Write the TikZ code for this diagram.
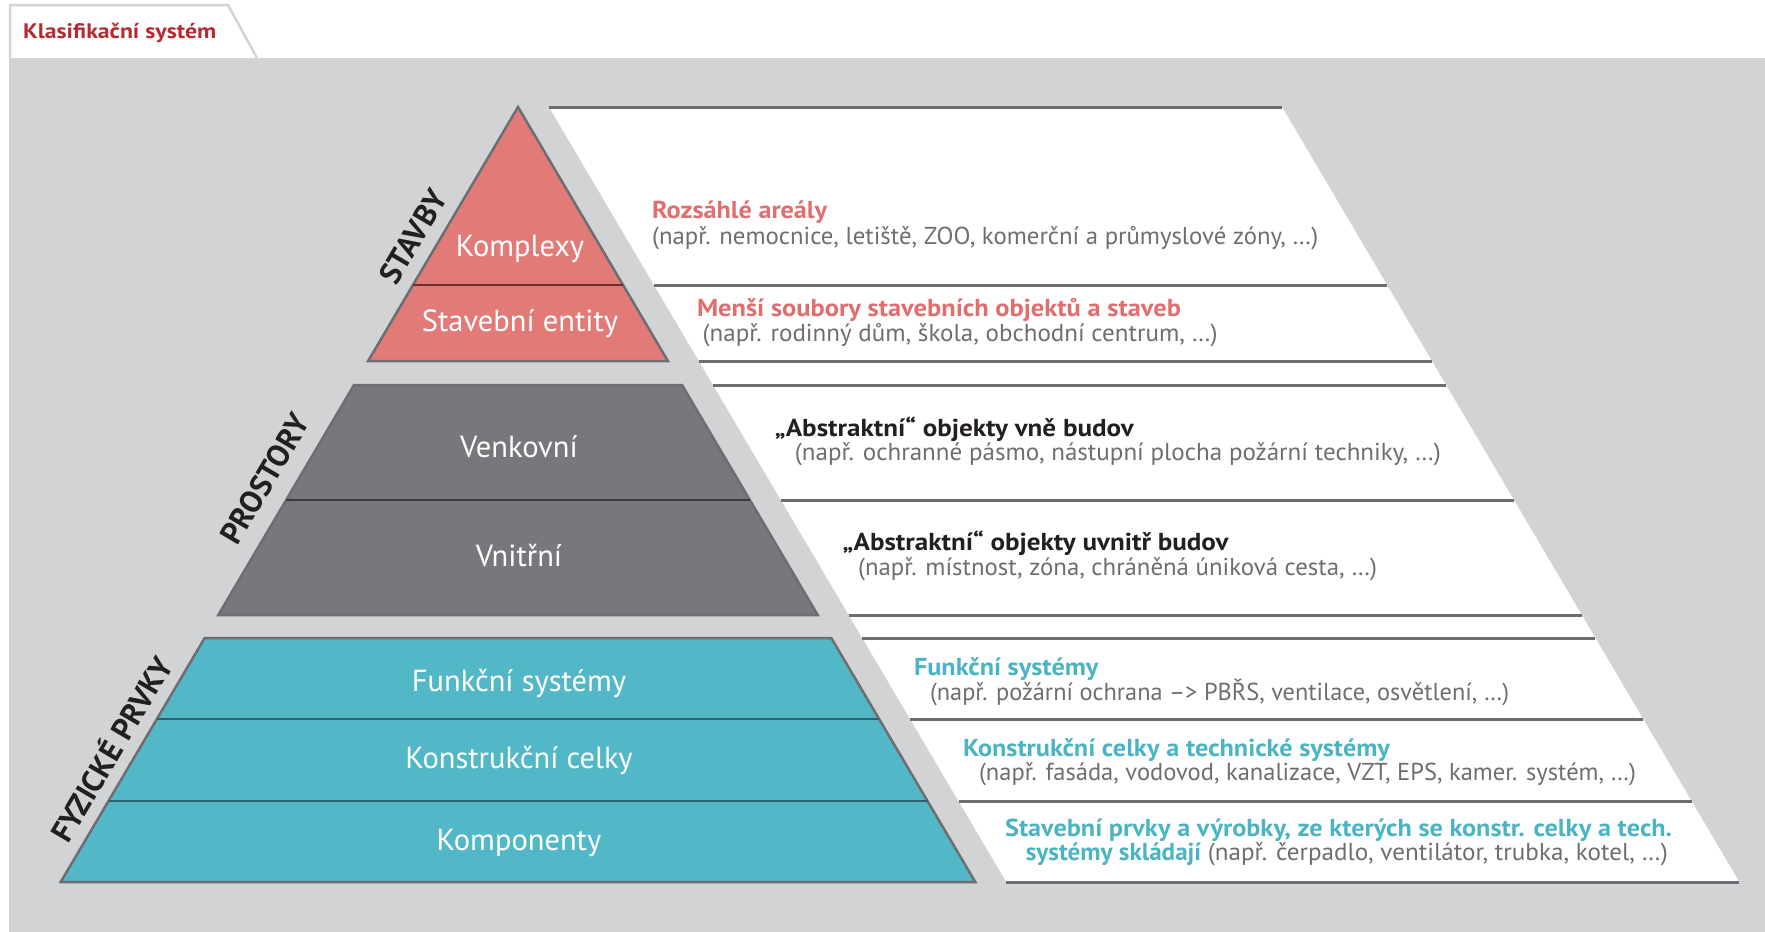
\documentclass[tikz,border=0pt]{standalone}
\usepackage{fontspec}
\usepackage{graphicx}
\setmainfont{PT Sans}
\definecolor{bggrey}{HTML}{D1D3D4}
\definecolor{titlered}{HTML}{B52B30}
\definecolor{stavfill}{HTML}{E27B78}
\definecolor{prosfill}{HTML}{77787B}
\definecolor{fyzfill}{HTML}{52B8C8}
\definecolor{outlgrey}{HTML}{6D6E71}
\definecolor{stavdiv}{HTML}{6B2F2F}
\definecolor{prosdiv}{HTML}{3A3B3D}
\definecolor{fyzdiv}{HTML}{2F5F6A}
\definecolor{headred}{HTML}{E06E6E}
\definecolor{headteal}{HTML}{4BB4C4}
\definecolor{bodygrey}{HTML}{6D6E71}
\definecolor{headblack}{HTML}{231F20}
\newlength\fitlen
\newcommand\fitto[2]{\settowidth\fitlen{#2}\scalebox{\fpeval{#1/\fitlen}}[1]{#2}}
\tikzset{
  tier/.style={draw=outlgrey, line width=2.5pt, line join=miter},
  bandline/.style={draw=outlgrey, line width=3pt},
  pyrtext/.style={text=white, font=\fontsize{30.5}{32}\selectfont, anchor=base, inner sep=0pt},
  sidelabel/.style={text=headblack, font=\bfseries\fontsize{31}{33}\selectfont, rotate=59.45, inner sep=0pt},
  head/.style={font=\bfseries\fontsize{24.5}{27}\selectfont, anchor=base west, inner sep=0pt},
  body/.style={text=bodygrey, font=\fontsize{24.5}{27}\selectfont, anchor=base west, inner sep=0pt},
}
\begin{document}
\begin{tikzpicture}[x=1pt,y=-1pt]
\useasboundingbox (0,0) rectangle (1765,932);
\fill[white] (0,0) rectangle (1765,932);
\fill[bggrey] (9,58) rectangle (1765,932);
% tab
\filldraw[fill=white, draw=bggrey, line width=2.5pt] (10,58) -- (10,5) -- (228,5) -- (257,58);
\node[anchor=base west, inner sep=0pt, text=titlered, font=\bfseries\fontsize{21}{24}\selectfont] (title) at (23,38) {\fitto{193}{Klasifikační systém}};

% right white area
\fill[white] (549,107) -- (1282,107) -- (1739.3,882) -- (1006.3,882) -- cycle;
\draw[bandline] (549,107) -- (1282,107);
\draw[bandline] (654.0,285) -- (1387.0,285);
\draw[bandline] (698.9,361) -- (1431.9,361);
\draw[bandline] (713.0,385) -- (1446.0,385);
\draw[bandline] (780.9,500) -- (1513.9,500);
\draw[bandline] (848.7,615) -- (1581.7,615);
\draw[bandline] (862.3,638) -- (1595.3,638);
\draw[bandline] (910.1,719) -- (1643.1,719);
\draw[bandline] (958.5,801) -- (1691.5,801);
\draw[bandline] (1006.3,882) -- (1739.3,882);

% pyramid
\filldraw[tier, fill=stavfill] (518,107) -- (667.9,361) -- (368.1,361) -- cycle;
\draw[stavdiv, line width=2pt] (413,285) -- (623,285);
\filldraw[tier, fill=prosfill] (354,385) -- (682,385) -- (817.7,615) -- (218.3,615) -- cycle;
\draw[prosdiv, line width=2pt] (286.1,500) -- (749.9,500);
\filldraw[tier, fill=fyzfill] (204.7,638) -- (831.3,638) -- (975.3,882) -- (60.7,882) -- cycle;
\draw[fyzdiv, line width=2pt] (156.9,719) -- (879.1,719);
\draw[fyzdiv, line width=2pt] (108.5,801) -- (927.5,801);

\node[pyrtext] (komplexy) at (520,256.7) {Komplexy};
\node[pyrtext] (entity) at (520,331.7) {Stavební entity};
\node[pyrtext] (venkovni) at (519,457) {Venkovní};
\node[pyrtext] (vnitrni) at (519,566.7) {Vnitřní};
\node[pyrtext] (funkcni) at (519,691.7) {Funkční systémy};
\node[pyrtext] (konstrukcni) at (519,768) {Konstrukční celky};
\node[pyrtext] (komponenty) at (519,850) {Komponenty};

\node[sidelabel] (stavby) at (413,236.5) {STAVBY};
\node[sidelabel] (prostory) at (265,479) {PROSTORY};
\node[sidelabel] (fyzicke) at (110,748.5) {FYZICKÉ PRVKY};

% band texts
\node[head, text=headred] (h1) at (652,218.3) {\fitto{175}{Rozsáhlé areály}};
\node[body] (b1) at (652,244) {\fitto{666}{(např. nemocnice, letiště, ZOO, komerční a průmyslové zóny, …)}};
\node[head, text=headred] (h2) at (696.8,316.7) {\fitto{484}{Menší soubory stavebních objektů a staveb}};
\node[body] (b2) at (702.5,341.7) {\fitto{515}{(např. rodinný dům, škola, obchodní centrum, …)}};
\node[head, text=headblack] (h3) at (774.6,436.7) {\fitto{359}{„Abstraktní“ objekty vně budov}};
\node[body] (b3) at (794.7,460) {\fitto{646}{(např. ochranné pásmo, nástupní plocha požární techniky, …)}};
\node[head, text=headblack] (h4) at (842.4,550) {\fitto{386}{„Abstraktní“ objekty uvnitř budov}};
\node[body] (b4) at (857.9,575) {\fitto{519}{(např. místnost, zóna, chráněná úniková cesta, …)}};
\node[head, text=headteal] (h5) at (913.8,675) {\fitto{184.5}{Funkční systémy}};
\node[body] (b5) at (929.9,700) {\fitto{579}{(např. požární ochrana –> PBŘS, ventilace, osvětlení, …)}};
\node[head, text=headteal] (h6) at (962.8,756.7) {\fitto{427}{Konstrukční celky a technické systémy}};
\node[body] (b6) at (978.9,780) {\fitto{657}{(např. fasáda, vodovod, kanalizace, VZT, EPS, kamer. systém, …)}};
\node[head, text=headteal] (h7) at (1004.9,836.7) {\fitto{667}{Stavební prvky a výrobky, ze kterých se konstr. celky a tech.}};
\node[body] (b7) at (1025.6,860) {\fitto{642}{\textcolor{headteal}{\bfseries systémy skládají} (např. čerpadlo, ventilátor, trubka, kotel, …)}};
\end{tikzpicture}
\end{document}
